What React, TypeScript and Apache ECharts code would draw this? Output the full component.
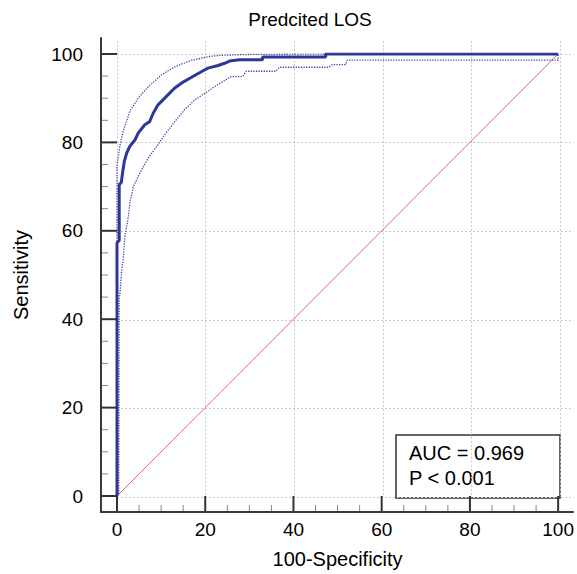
import React, { useEffect, useRef } from "react";
import * as echarts from "echarts";

const chartTitle = "Predcited LOS";
const xAxisName = "100-Specificity";
const yAxisName = "Sensitivity";
const aucLines = ["AUC = 0.969", "P < 0.001"];

// Tick values (both axes)
const majorTicks = [0, 20, 40, 60, 80, 100];
const minorTicks = [5, 10, 15, 25, 30, 35, 45, 50, 55, 65, 70, 75, 85, 90, 95];

// ROC curve (100-Specificity, Sensitivity)
const rocFpr = [0, 0, 0.5, 0.5, 1.0, 1.2, 1.65, 2.2, 2.9, 4.1, 4.8, 6.3, 7.4, 8.2, 9.3, 11.2, 13.1, 14.6, 16.5, 18.4, 20.6, 22.9, 24.4, 25.5, 27.8, 33.0, 33.0, 47.3, 47.3, 100];
const rocSens = [0, 57.3, 57.8, 70.4, 71.0, 72.7, 75.7, 77.6, 79.1, 80.6, 82.1, 84.0, 84.7, 86.6, 88.5, 90.4, 92.3, 93.4, 94.5, 95.6, 96.8, 97.4, 97.9, 98.4, 98.7, 98.7, 99.3, 99.3, 100, 100];

// Upper 95% confidence bound
const upperFpr = [0, 0, 0.7, 1.4, 2.9, 4.8, 7.1, 10.1, 13.1, 16.9, 21.4, 23.3, 30.0, 47.3, 100];
const upperSens = [0, 74.9, 79.5, 82.5, 87.0, 90.0, 92.6, 95.3, 97.1, 98.6, 99.5, 99.7, 99.9, 100, 100];

// Lower 95% confidence bound
const lowerFpr = [0, 0.4, 0.5, 0.7, 1.06, 1.4, 1.8, 2.6, 2.9, 3.7, 5.2, 7.1, 9.3, 10.8, 13.1, 15.3, 17.6, 19.9, 22.1, 25.9, 27.4, 28.5, 29.3, 36.0, 36.8, 48.0, 48.8, 51.8, 52.2, 100, 100];
const lowerSens = [0, 0.5, 45.0, 46.0, 51.2, 53.5, 58.8, 63.3, 66.3, 70.0, 73.1, 76.5, 79.5, 81.7, 84.7, 87.4, 89.6, 91.1, 92.6, 94.9, 94.9, 94.9, 96.1, 96.1, 97.0, 97.0, 97.6, 97.6, 98.6, 98.6, 100];

// Reference diagonal
const diagX = [0, 100];
const diagY = [0, 100];

const FONT = "'Liberation Sans', Arial, sans-serif";
const AXIS_GAP = 16; // axis lines sit this many px outside the data area
// data grid layout
const G_LEFT = 117;
const G_RIGHT = 17;
const G_TOP = 54;
const G_BOTTOM = 77;
const W = 577;
const H = 574;

function zip(xs: number[], ys: number[]) {
  return xs.map((x, i) => [x, ys[i]]);
}

export default function App() {
  const ref = useRef<HTMLDivElement>(null);
  useEffect(() => {
    if (!ref.current) return;
    const chart = echarts.init(ref.current, null, { renderer: "svg" });
    const off = { show: false };
    const splitAxis = {
      type: "value",
      min: 0,
      max: 103,
      interval: 20,
      axisLine: { show: false, onZero: false },
      axisTick: off,
      axisLabel: off,
      splitLine: {
        show: true,
        showMaxLine: false,
        lineStyle: { color: "#c8c8c8", type: [2, 2], width: 1 },
      },
    };
    const mainAxisCommon = {
      type: "value",
      min: 0,
      max: 100,
      interval: 20,
      axisLine: { show: false, onZero: false },
      axisTick: off,
      minorTick: off,
      splitLine: off,
    };
    const baseGraphic: any[] = [
      {
        id: "title",
        type: "text",
        x: 310,
        y: 19,
        style: {
          text: chartTitle,
          align: "center",
          verticalAlign: "middle",
          fontSize: 19,
          fontFamily: FONT,
          fill: "#000",
        },
      },
      {
        id: "aucBox",
        type: "group",
        z: 100,
        children: [
          {
            type: "rect",
            shape: { x: 396, y: 435, width: 164, height: 63 },
            style: { fill: "#ffffff", stroke: "#333", lineWidth: 1.5 },
          },
          {
            type: "text",
            x: 409,
            y: 453,
            style: { text: aucLines[0], verticalAlign: "middle", fontSize: 20, fontFamily: FONT, fill: "#000" },
          },
          {
            type: "text",
            x: 409,
            y: 478,
            style: { text: aucLines[1], verticalAlign: "middle", fontSize: 20, fontFamily: FONT, fill: "#000" },
          },
        ],
      },
    ];

    // Tick pixel positions via the data grid scale (fallback to linear layout math)
    const toPixel = (pt: number[]): number[] => {
      let p: any = null;
      try {
        p = chart.convertToPixel({ xAxisIndex: 0, yAxisIndex: 0 } as any, pt);
      } catch (e) {
        p = null;
      }
      if (!p || !Number.isFinite(p[0]) || !Number.isFinite(p[1])) {
        const gw = W - G_LEFT - G_RIGHT;
        const gh = H - G_TOP - G_BOTTOM;
        p = [G_LEFT + (pt[0] / 100) * gw, H - G_BOTTOM - (pt[1] / 100) * gh];
      }
      return p;
    };
    const buildTicks = () => {
      const els: any[] = [];
      const add = (values: number[], len: number, color: string, width: number, tag: string) => {
        values.forEach((v, i) => {
          const py = toPixel([0, v]);
          const x0 = py[0] - AXIS_GAP + 1;
          els.push({
            id: `ty-${tag}-${i}`,
            type: "line",
            z: 50,
            silent: true,
            shape: { x1: x0, y1: py[1], x2: x0 + len, y2: py[1] },
            style: { stroke: color, lineWidth: width },
          });
          const px = toPixel([v, 0]);
          const y0 = px[1] + AXIS_GAP - 1;
          els.push({
            id: `tx-${tag}-${i}`,
            type: "line",
            z: 50,
            silent: true,
            shape: { x1: px[0], y1: y0, x2: px[0], y2: y0 - len },
            style: { stroke: color, lineWidth: width },
          });
        });
      };
      add(majorTicks, 15, "#333", 2, "major");
      add(minorTicks, 6, "#888", 1, "minor");
      return els;
    };

    const option: any = {
      animation: false,
      backgroundColor: "#ffffff",
      grid: [
        { left: G_LEFT, right: G_RIGHT, top: G_TOP, bottom: G_BOTTOM }, // data
        { left: 117, right: 3.7, top: 40.7, bottom: 77 }, // split lines
        { left: 101, right: 4, top: 38, bottom: 62 }, // frame lines
      ],
      xAxis: [
        {
          ...mainAxisCommon,
          gridIndex: 0,
          position: "bottom",
          offset: 15,
          axisLabel: { margin: 9, fontSize: 19, color: "#000", fontFamily: FONT },
          name: xAxisName,
          nameLocation: "middle",
          nameGap: 38,
          nameTextStyle: { fontSize: 20, color: "#000", fontFamily: FONT },
        },
        { ...splitAxis, gridIndex: 1 },
        {
          gridIndex: 2,
          type: "value",
          position: "bottom",
          min: 0,
          max: 1,
          axisLine: { show: true, onZero: false, lineStyle: { color: "#3a3a3a", width: 2 } },
          axisTick: off,
          axisLabel: off,
          splitLine: off,
        },
      ],
      yAxis: [
        {
          ...mainAxisCommon,
          gridIndex: 0,
          position: "left",
          offset: 16,
          axisLabel: { margin: 18, fontSize: 19, color: "#000", fontFamily: FONT },
          name: yAxisName,
          nameLocation: "middle",
          nameGap: 70,
          nameTextStyle: { fontSize: 20, color: "#000", fontFamily: FONT },
        },
        { ...splitAxis, gridIndex: 1 },
        {
          gridIndex: 2,
          type: "value",
          position: "left",
          min: 0,
          max: 1,
          axisLine: { show: true, onZero: false, lineStyle: { color: "#3a3a3a", width: 2 } },
          axisTick: off,
          axisLabel: off,
          splitLine: off,
        },
      ],
      graphic: baseGraphic,
      series: [
        {
          type: "line",
          xAxisIndex: 0,
          yAxisIndex: 0,
          data: zip(diagX, diagY),
          symbol: "none",
          color: "#e06a6a",
          lineStyle: { color: "#e06a6a", width: 1 },
          z: 2,
        },
        {
          type: "line",
          xAxisIndex: 0,
          yAxisIndex: 0,
          data: zip(lowerFpr, lowerSens),
          symbol: "none",
          color: "#3d48a8",
          lineStyle: { color: "#3d48a8", width: 1.3, type: "dotted" },
          z: 3,
        },
        {
          type: "line",
          xAxisIndex: 0,
          yAxisIndex: 0,
          data: zip(upperFpr, upperSens),
          symbol: "none",
          color: "#3d48a8",
          lineStyle: { color: "#3d48a8", width: 1.3, type: "dotted" },
          z: 3,
        },
        {
          type: "line",
          xAxisIndex: 0,
          yAxisIndex: 0,
          data: zip(rocFpr, rocSens),
          symbol: "none",
          color: "#2d3896",
          lineStyle: { color: "#2d3896", width: 3 },
          z: 4,
        },
      ],
    };
    chart.setOption(option);
    try {
      chart.setOption({ graphic: [...baseGraphic, ...buildTicks()] });
    } catch (e) {
      // keep base chart if tick overlay fails
    }

    return () => chart.dispose();
  }, []);
  return (
    <div
      ref={ref}
      style={{ position: "fixed", left: 0, top: 0, width: W, height: H, background: "#fff" }}
    />
  );
}
